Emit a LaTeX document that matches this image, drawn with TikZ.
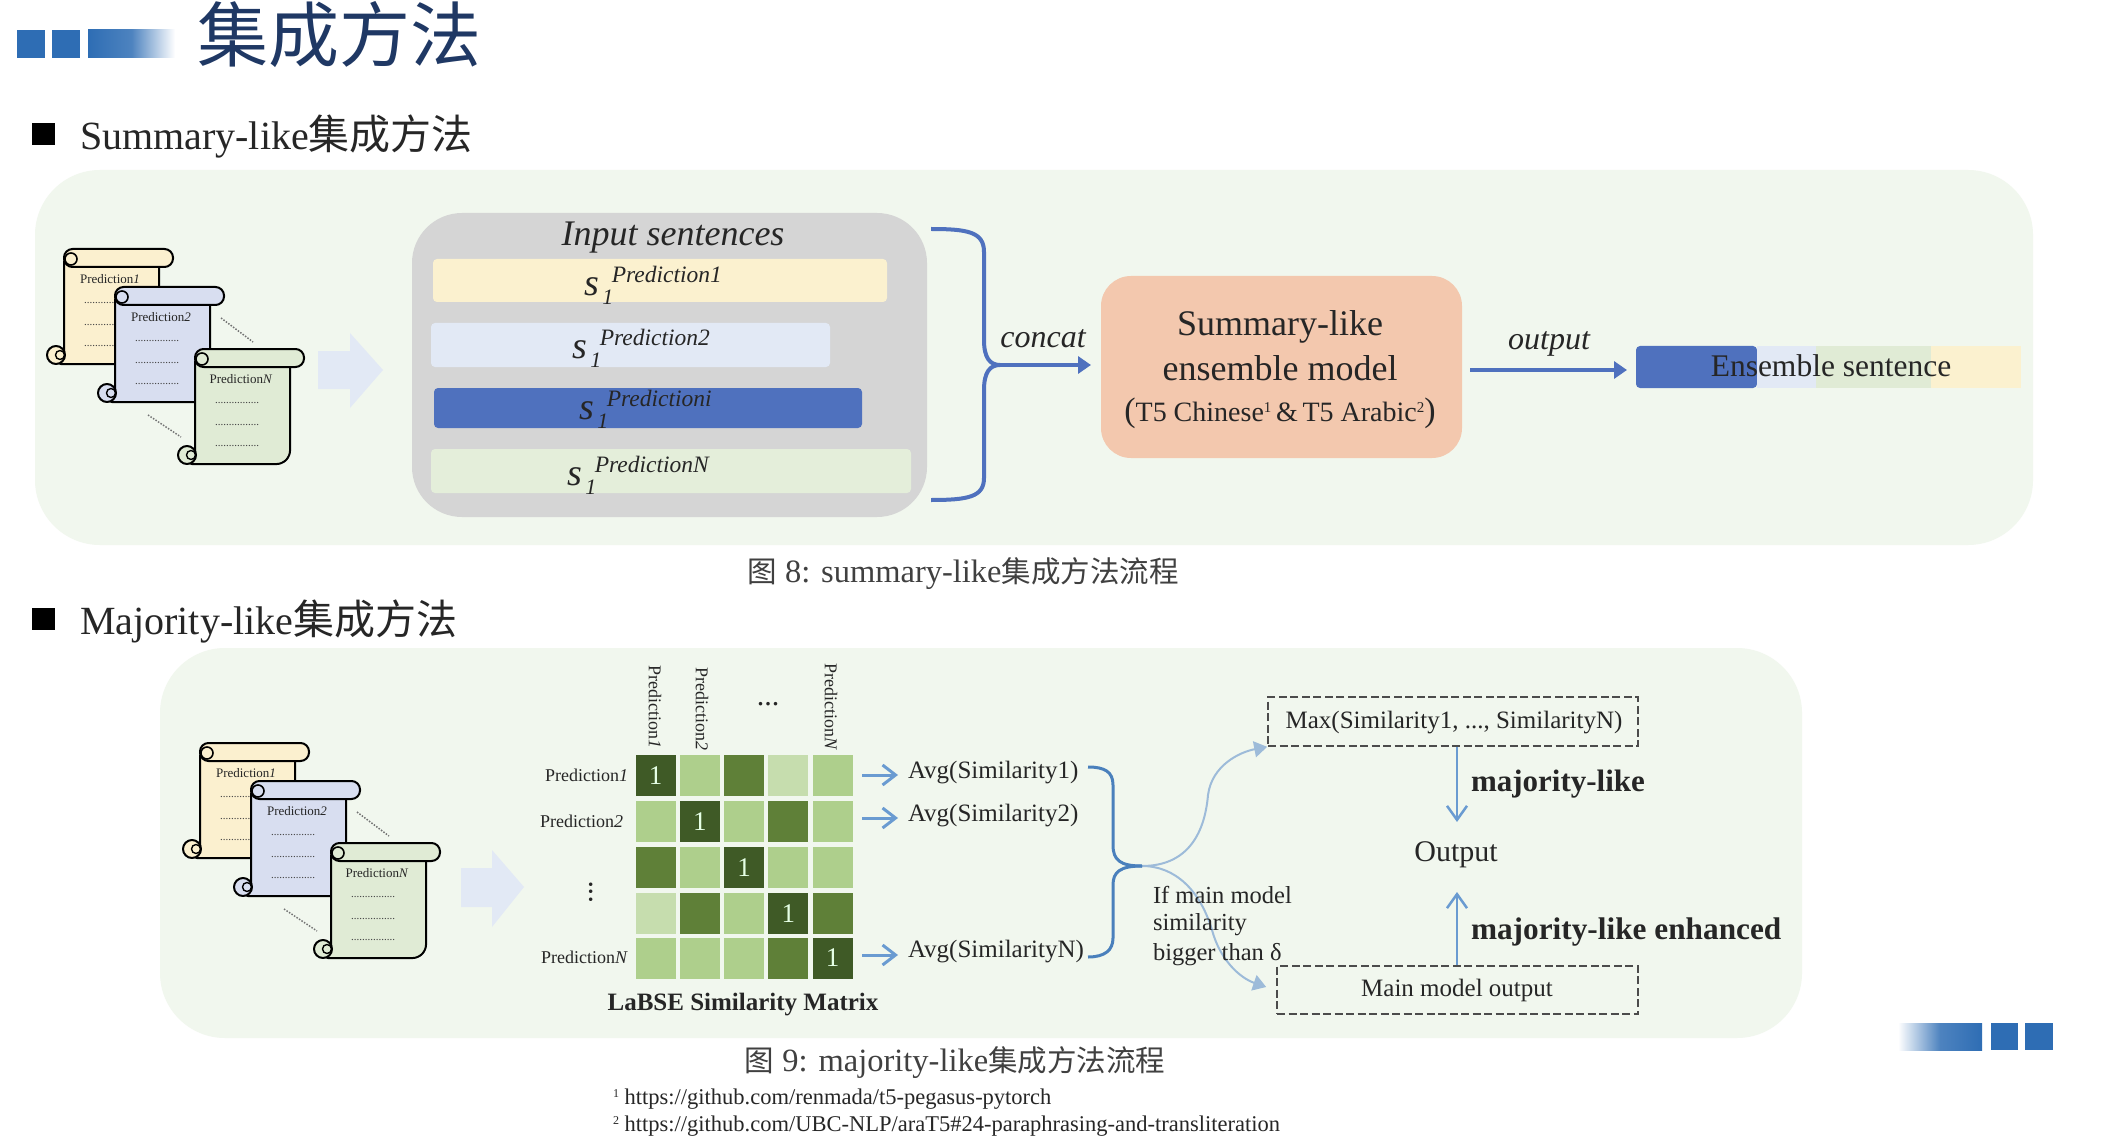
\documentclass[tikz,border=0pt]{standalone}
\usepackage{fontspec}
\setmainfont{Liberation Serif}
\newfontfamily\cjk{Noto Sans CJK SC}
\usetikzlibrary{arrows.meta,calc}
\definecolor{panel}{HTML}{F1F7EE}
\definecolor{greyp}{HTML}{D5D5D5}
\definecolor{yel}{HTML}{FBF1CF}
\definecolor{blu}{HTML}{E2E9F5}
\definecolor{dblu}{HTML}{4F71BE}
\definecolor{grn}{HTML}{E4EEDA}
\definecolor{sal}{HTML}{F3C8AE}
\definecolor{hdr}{HTML}{2E6DB4}
\definecolor{ttl}{HTML}{1F3864}
\definecolor{sy}{HTML}{FBF0CF}
\definecolor{sb}{HTML}{D8DEF0}
\definecolor{sg}{HTML}{E0EBD5}
\definecolor{cD}{HTML}{3F5A26}
\definecolor{cM}{HTML}{5F8038}
\definecolor{cL}{HTML}{AECF8C}
\definecolor{cP}{HTML}{C6DDAE}
\definecolor{arr}{HTML}{6A9BD1}
\definecolor{brk}{HTML}{4A80BC}
\definecolor{crv}{HTML}{9DBBD9}
\newcommand\fs[1]{\fontsize{#1}{#1}\selectfont}
\newcommand\sone[1]{{\fs{38}\itshape s\rlap{\raisebox{-9pt}{\fs{22}\,1}}\hspace{13pt}\raisebox{13pt}{\fs{23.5}#1}}}
\tikzset{
 x=1pt,y=-1pt,
 txt/.style={inner sep=0pt,outer sep=0pt,text=black!85},
 bar/.style={draw=none,rounded corners=4pt},
 bluearrow/.style={draw=dblu,line width=4pt,-{Triangle[length=13pt,width=17pt]}},
 bluebracket/.style={draw=dblu,line width=4pt},
 lightarrow/.style={draw=arr,line width=3pt,-{Straight Barb[length=13pt,width=20pt]}},
 curve/.style={draw=crv,line width=2pt,-{Triangle[length=13pt,width=16pt]}},
 vertarrow/.style={draw=arr,line width=2.5pt,-{Straight Barb[length=14pt,width=20pt]}},
 dashbox/.style={draw=black!70,line width=1.6pt,dash pattern=on 8pt off 3.5pt,inner sep=0pt},
 scrollline/.style={draw=black,line width=2pt,line join=round},
 dotline/.style={draw=black!55,line width=1.5pt,dash pattern=on 1.5pt off 1.5pt},
 block/.style={fill=blu,draw=none},
 cell/.style={draw=none,minimum width=40pt,minimum height=41pt,inner sep=0pt},
}
\newcommand\scrollpic[5]{% name, x, y, fill, label
 \begin{scope}[shift={(#2,#3)}]
  \path[fill=#4,scrollline,rounded corners=5pt] (0,8) -- (0,108) -- (-8,115) -- (87,115) -- (95,107) -- (95,10) -- cycle;
  \path[fill=#4,scrollline,rounded corners=8.5pt] (0,0) rectangle (109,18);
  \draw[scrollline,line width=1.6pt,fill=#4] (7,10) circle (6);
  \draw[scrollline,fill=#4] (-8,106) circle (9);
  \draw[scrollline,line width=1.4pt] (-4,106) circle (4.5);
  \node[txt,font=\fs{13}] (#1t) at (46,30) {Prediction\textit{#5}};
  \foreach \yy/\nn in {54/a,76/b,97/c}{
    \node[txt,font=\fs{11},text=black!75] (#1\nn) at (42,\yy) {................};
  }
 \end{scope}}
\begin{document}
\begin{tikzpicture}
\useasboundingbox (0,0) rectangle (2103,1139);
\fill[white] (0,0) rectangle (2103,1139);
% header
\fill[hdr] (17,30) rectangle (45,58);
\fill[hdr] (52,30) rectangle (80,58);
\shade[left color=hdr,right color=white,middle color=hdr!85] (88,30) rectangle (175,58);
\node[txt,font=\cjk\fs{71},text=ttl,anchor=west] (title) at (197,35) {集成方法};
\fill[black] (32,123) rectangle (55,145);
\node[txt,anchor=west,font=\fs{40}] (h1) at (80,136) {Summary-like{\cjk\fs{41}集成方法}};
% top panel
\fill[panel,rounded corners=65pt] (35,170) rectangle (2033,545);
\scrollpic{sa}{64}{249}{sy}{1}
\scrollpic{sb}{115}{287}{sb}{2}
\scrollpic{sc}{195}{349}{sg}{N}
\draw[dotline] (221,318) -- (253,342);
\draw[dotline] (148,415) -- (181,437);
\path[block] (318,351) -- (350,351) -- (350,333) -- (383,370) -- (350,408) -- (350,389) -- (318,389) -- cycle;
\fill[greyp,rounded corners=50pt] (412,213) rectangle (927,517);
\node[txt,font=\itshape\fs{36}] (inp) at (673,238) {Input sentences};
\fill[yel,bar] (433,259) rectangle (887,302);
\fill[blu,bar] (431,323) rectangle (830,367);
\fill[dblu,bar] (434,388) rectangle (862,428);
\fill[grn,bar] (431,449) rectangle (911,493);
\node[txt,anchor=west] (s1) at (584,285) {\sone{Prediction1}};
\node[txt,anchor=west] (s2) at (572,348) {\sone{Prediction2}};
\node[txt,anchor=west] (s3) at (579,409) {\sone{Predictioni}};
\node[txt,anchor=west] (s4) at (567,475) {\sone{PredictionN}};
% bracket
\coordinate (bt) at (931,229);
\coordinate (bb) at (931,500);
\coordinate (bm) at (1000,365);
\coordinate (bt2) at (1091,365);
\draw[bluebracket] (bt) .. controls (968,229) and (984,232) .. (984,252) -- (984,340) .. controls (984,358) and (990,365) .. (bm);
\draw[bluebracket] (bb) .. controls (968,500) and (984,497) .. (984,478) -- (984,390) .. controls (984,372) and (990,365) .. (bm);
\node[txt,font=\itshape\fs{32}] (concat) at (1043,339) {concat};
\node[fill=sal,rounded corners=30pt,minimum width=361pt,minimum height=182pt,inner sep=0pt] (model) at (1281.5,367) {};
\draw[bluearrow] (bm) -- (bt2);
\node[txt,font=\fs{36}] (m1) at (1280,327) {Summary-like};
\node[txt,font=\fs{36}] (m2) at (1280,368) {ensemble model};
\node[txt,font=\fs{28}] (m3) at (1280,413) {{\fs{34}(}T5 Chinese\raisebox{9pt}{\fs{15}1}\,\&\,T5 Arabic\raisebox{9pt}{\fs{15}2}{\fs{34})}};
\node[txt,font=\itshape\fs{32}] (outp) at (1549,344) {output};
% ensemble bar
\fill[dblu,rounded corners=4pt] (1636,346) rectangle (1757,388);
\fill[blu] (1757,346) rectangle (1816,388);
\fill[sg] (1816,346) rectangle (1931,388);
\fill[yel] (1931,346) rectangle (2021,388);
\coordinate (ensw) at (1627,370);
\draw[bluearrow] ($(model.east)+(8,3)$) -- (ensw);
\node[txt,font=\fs{31.5}] (ens) at (1831,366) {Ensemble sentence};
\node[txt,font=\fs{32.5},text=black!75] (cap8) at (963,574) {{\cjk\fs{29.5}图} 8: summary-like{\cjk\fs{29.5}集成方法流程}};
% majority heading
\fill[black] (32,608) rectangle (55,630);
\node[txt,anchor=west,font=\fs{40}] (h2) at (80,621) {Majority-like{\cjk\fs{41}集成方法}};
% bottom panel
\fill[panel,rounded corners=65pt] (160,648) rectangle (1802,1038);
\scrollpic{ta}{200}{743}{sy}{1}
\scrollpic{tb}{251}{781}{sb}{2}
\scrollpic{tc}{331}{843}{sg}{N}
\draw[dotline] (357,812) -- (389,836);
\draw[dotline] (284,909) -- (317,931);
\path[block] (461,868) -- (492,868) -- (492,850) -- (524,887) -- (492,927) -- (492,907) -- (461,907) -- cycle;
% matrix
\foreach \r/\y/\cc in {1/775.5/{cD,cL,cM,cP,cL},2/821.5/{cL,cD,cL,cM,cL},3/867.5/{cM,cL,cD,cL,cL},4/913.5/{cP,cM,cL,cD,cM},5/958/{cL,cL,cL,cM,cD}}{
  \foreach \c [count=\k] in \cc {
    \pgfmathsetmacro\xx{655.5+44.25*(\k-1)}
    \node[cell,fill=\c] (m\r\k) at (\xx,\y) {};
  }
}
\foreach \i in {1,...,5}{
  \node[txt,font=\fs{27},text=white!90!green] (one\i) at (m\i\i) {1};
}
\node[txt,font=\fs{18},anchor=east] (rl1) at (628,775) {Prediction\textit{1}};
\node[txt,font=\fs{18},anchor=east] (rl2) at (623,821) {Prediction\textit{2}};
\node[txt,font=\fs{18},anchor=east] (rl3) at (628,957) {Prediction\textit{N}};
\node[txt,font=\fs{18},rotate=-90] (cl1) at (655,707) {Prediction\textit{1}};
\node[txt,font=\fs{18},rotate=-90] (cl2) at (702,709) {Prediction\textit{2}};
\node[txt,font=\fs{18},rotate=-90] (cl3) at (831,707) {Prediction\textit{N}};
\node[txt,font=\fs{30}] (hd) at (768,704) {...};
\node[txt,font=\fs{30},rotate=90] (vd) at (591,892) {...};
\node[txt,font=\bfseries\fs{25}] (mt) at (743,1005) {LaBSE Similarity Matrix};
% avg
\node[txt,anchor=west,font=\fs{25}] (a1) at (908,773) {Avg(Similarity1)};
\node[txt,anchor=west,font=\fs{25}] (a2) at (908,816) {Avg(Similarity2)};
\node[txt,anchor=west,font=\fs{25}] (a3) at (908,952) {Avg(SimilarityN)};
\coordinate (p1) at (862,775);
\coordinate (p2) at (862,818);
\coordinate (p3) at (862,955);
\draw[lightarrow] (p1) -- (898,775);
\draw[lightarrow] (p2) -- (898,818);
\draw[lightarrow] (p3) -- (898,955);
% bracket 2
\coordinate (ct) at (1088,767);
\coordinate (cb) at (1088,957);
\coordinate (cj) at (1142,866);
\node[dashbox,minimum width=370pt,minimum height=49pt] (maxb) at (1453,721.5) {};
\node[dashbox,minimum width=361pt,minimum height=48pt] (mainb) at (1457.5,990) {};
\draw[curve] (cj) .. controls (1190,866) and (1205,830) .. (1208,795) .. controls (1212,765) and (1240,752) .. (maxb.south west);
\draw[curve] (cj) .. controls (1175,866) and (1200,890) .. (1212,930) .. controls (1220,960) and (1240,978) .. ($(mainb.west)+(-10,-3)$);
\draw[brk,line width=3pt] (ct) .. controls (1105,767) and (1113,772) .. (1113,785) -- (1113,845) .. controls (1113,860) and (1120,866) .. (cj);
\draw[brk,line width=3pt] (cb) .. controls (1105,957) and (1113,950) .. (1113,938) -- (1113,885) .. controls (1113,872) and (1120,866) .. (cj);
\node[txt,anchor=west,font=\fs{24.5}] (if1) at (1153,895) {If main model};
\node[txt,anchor=west,font=\fs{24.5}] (if2) at (1153,925) {similarity};
\node[txt,anchor=west,font=\fs{24.5}] (if3) at (1153,955) {bigger than δ};
\node[txt,font=\fs{25}] (maxt) at (1454,723) {Max(Similarity1, ..., SimilarityN)};
\node[txt,font=\fs{25}] (maint) at (1457,990) {Main model output};
\node[txt,font=\fs{30}] (out) at (1456,855) {Output};
\coordinate (d0) at (1457,822);
\coordinate (d3) at (1457,892);
\draw[vertarrow] (maxb.south -| d0) -- (d0);
\draw[vertarrow] (mainb.north -| d3) -- (d3);
\node[txt,anchor=west,font=\bfseries\fs{31}] (mj1) at (1471,784) {majority-like};
\node[txt,anchor=west,font=\bfseries\fs{31.3}] (mj2) at (1471,932) {majority-like enhanced};
\node[txt,font=\fs{32.5},text=black!75] (cap9) at (955,1063) {{\cjk\fs{29.5}图} 9: majority-like{\cjk\fs{29.5}集成方法流程}};
\node[txt,anchor=west,font=\fs{22.5}] (fn1) at (613,1099) {\raisebox{7pt}{\fs{12}1} https://github.com/renmada/t5-pegasus-pytorch};
\node[txt,anchor=west,font=\fs{22.5}] (fn2) at (613,1126) {\raisebox{7pt}{\fs{12}2} https://github.com/UBC-NLP/araT5\#24-paraphrasing-and-transliteration};
% deco
\shade[left color=white,right color=hdr,middle color=hdr!85] (1898,1023) rectangle (1982,1050);
\fill[hdr] (1991,1023) rectangle (2018,1050);
\fill[hdr] (2025,1023) rectangle (2053,1050);
\end{tikzpicture}
\end{document}
